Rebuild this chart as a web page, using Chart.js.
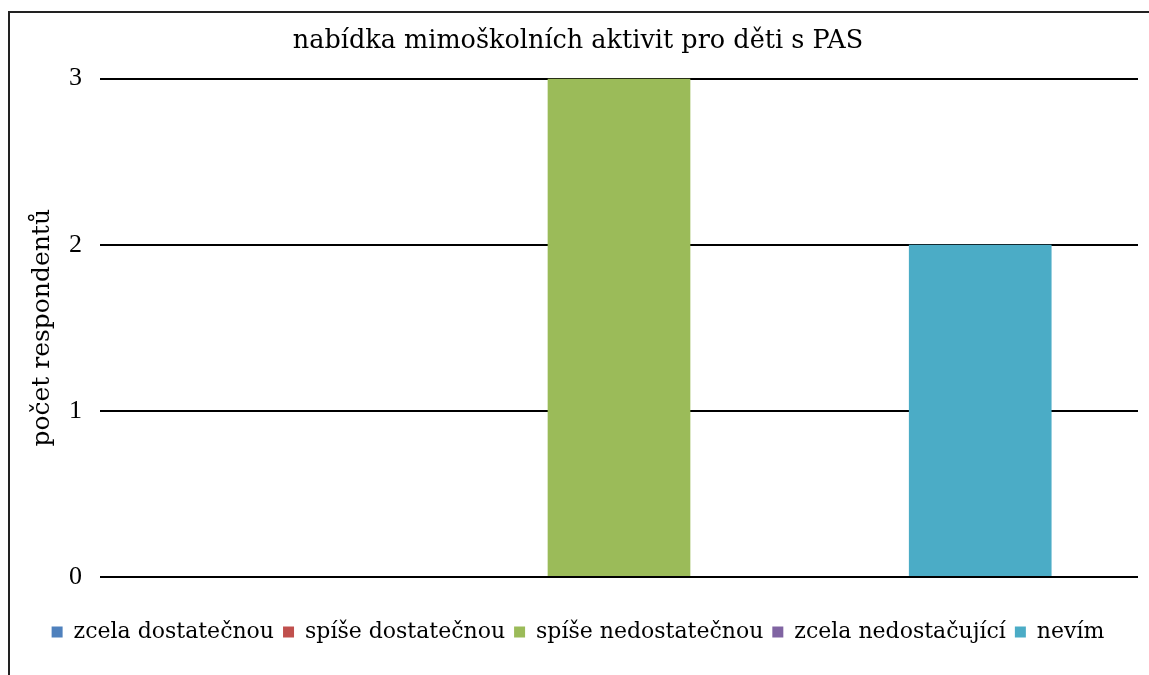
<!DOCTYPE html>
<html>
<head>
<meta charset="utf-8">
<script src="https://cdn.jsdelivr.net/npm/chart.js@4"></script>
<style>
  html, body { margin: 0; padding: 0; background: #fff; }
  #wrap { position: relative; width: 1149px; height: 675px; overflow: hidden; }
  #frame { position: absolute; left: 8px; top: 11px; right: -5px; bottom: -5px; border-left: 2px solid #222; border-top: 2px solid #222; }
  canvas { position: absolute; left: 0; top: 0; }
</style>
</head>
<body>
<div id="wrap">
  <div id="frame"></div>
  <canvas id="chart" width="1149" height="675"></canvas>
</div>
<script>
  const TITLE = 'nabídka mimoškolních aktivit pro děti s PAS';
  const Y_TITLE = 'počet respondentů';
  const SERIES = ['zcela dostatečnou', 'spíše dostatečnou', 'spíše nedostatečnou', 'zcela nedostačující', 'nevím'];
  const VALUES = [0, 0, 3, 0, 2];
  const COLORS = ['#4f81bd', '#c0504d', '#9bbb59', '#8064a2', '#4bacc6'];
  const Y_TICKS = [0, 1, 2, 3];

  const datasets = SERIES.map((name, i) => ({
    label: name,
    data: [VALUES[i]],
    backgroundColor: COLORS[i],
    borderWidth: 0,
    categoryPercentage: 0.87,
    barPercentage: 0.79,
  }));

  new Chart(document.getElementById('chart'), {
    type: 'bar',
    data: { labels: [''], datasets },
    options: {
      responsive: false,
      animation: false,
      layout: { padding: { left: 18, right: 11, top: 0, bottom: 22 } },
      plugins: {
        tooltip: { enabled: false },
        title: {
          display: true,
          text: TITLE,
          color: '#000',
          font: { family: 'DejaVu Serif', size: 25.5, weight: 'normal' },
          padding: { top: 26, bottom: 22 },
        },
        legend: {
          position: 'bottom',
          labels: {
            color: '#000',
            font: { family: 'DejaVu Serif', size: 22 },
            boxWidth: 11,
            boxHeight: 11,
            padding: 9,
          },
        },
      },
      scales: {
        x: {
          grid: { display: false },
          border: { display: false },
          ticks: { display: false },
          afterFit: (scale) => { scale.height = 35; },
        },
        y: {
          min: 0,
          max: 3,
          afterBuildTicks: (scale) => { scale.ticks = Y_TICKS.map((v) => ({ value: v })); },
          border: { display: false },
          grid: { color: '#000', lineWidth: 2, drawTicks: false },
          ticks: {
            color: '#000',
            padding: 18,
            font: { family: 'Liberation Serif', size: 26 },
          },
          title: {
            display: true,
            text: Y_TITLE,
            color: '#000',
            font: { family: 'DejaVu Serif', size: 25, weight: 'normal' },
            padding: { top: 9, bottom: 0 },
          },
          afterFit: (scale) => { scale.width = 82; },
        },
      },
    },
  });
</script>
</body>
</html>
